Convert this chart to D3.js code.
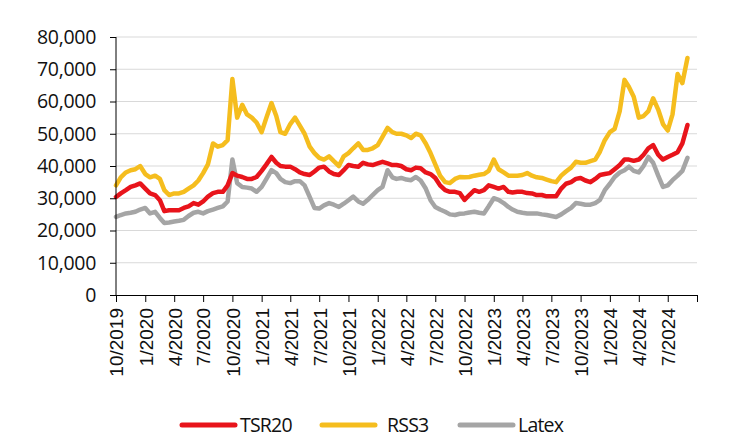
<!DOCTYPE html>
<html><head><meta charset="utf-8">
<script src="https://cdn.jsdelivr.net/npm/d3@7/dist/d3.min.js"></script>
<style>
html,body{margin:0;padding:0;background:#fff;}
svg{display:block;}
</style></head>
<body><svg id="chart" width="732" height="448"></svg>
<script>
// Semi-monthly observations starting 1 Oct 2019 (1st and 16th of each month)
const nPoints = 119;
const dates = [];
for (let i = 0; i < nPoints; i++) {
  const m = Math.floor(i / 2);
  dates.push(new Date(2019, 9 + m, i % 2 === 0 ? 1 : 16));
}

const tsr20 = [30.4,31.5,32.5,33.5,34.0,34.6,33.0,31.5,31.0,29.4,26.0,26.3,26.3,26.3,27.0,27.5,28.5,28.0,29.0,30.5,
31.6,32.0,32.0,34.0,37.8,37.0,36.6,36.0,36.0,36.6,38.5,40.5,42.8,41.0,40.0,39.8,39.8,39.0,38.0,37.5,
37.2,38.3,39.5,39.8,38.3,37.5,37.2,38.7,40.3,40.0,39.8,41.0,40.5,40.3,40.8,41.3,40.8,40.3,40.3,40.0,
39.0,38.7,39.5,39.3,38.0,37.5,36.3,34.0,32.5,32.0,32.0,31.6,29.5,31.0,32.5,32.0,32.5,34.0,33.5,33.0,
33.5,32.0,31.8,32.0,32.0,31.6,31.5,31.0,31.0,30.6,30.6,30.6,33.0,34.5,35.0,36.0,36.3,35.5,35.0,36.0,
37.2,37.5,37.8,39.0,40.3,42.0,42.0,41.6,42.0,43.5,45.5,46.5,43.5,42.0,42.8,43.5,44.3,47.0,52.7];

const rss3 = [34.0,36.5,38.0,38.7,39.0,40.0,37.5,36.5,37.0,36.0,32.5,31.0,31.5,31.5,32.0,33.0,34.0,35.5,37.8,40.5,
47.0,46.0,46.5,48.0,67.0,55.0,59.0,56.0,55.0,53.5,50.5,55.0,59.5,55.5,50.5,50.0,53.0,55.0,52.5,50.0,
46.0,44.0,42.5,42.0,43.0,41.5,40.0,43.0,44.0,45.5,47.0,45.0,45.0,45.5,46.5,49.0,51.8,50.5,50.0,50.0,
49.5,48.7,50.0,49.5,47.0,44.0,40.5,37.0,35.0,34.7,36.0,36.6,36.5,36.6,37.0,37.3,37.5,38.5,42.0,39.0,
38.0,37.0,37.0,37.0,37.2,37.8,37.0,36.5,36.3,35.8,35.3,35.0,37.0,38.3,39.5,41.3,41.0,41.0,41.5,42.0,
44.5,48.0,50.5,51.5,57.0,66.7,64.5,61.5,55.0,55.5,57.0,61.0,57.5,53.0,51.0,56.0,68.5,65.7,73.5];

const latex = [24.2,24.8,25.3,25.5,25.8,26.5,27.0,25.3,25.8,23.9,22.3,22.5,22.8,23.0,23.3,24.5,25.5,25.8,25.3,26.0,
26.5,27.0,27.5,29.0,42.0,34.7,33.5,33.3,33.0,32.0,33.5,36.0,38.7,37.8,36.0,35.0,34.7,35.3,35.3,34.0,
30.4,27.0,26.8,27.8,28.5,28.0,27.3,28.3,29.4,30.5,29.0,28.3,29.5,31.0,32.5,33.5,38.7,36.5,36.0,36.3,
35.8,35.6,36.6,35.5,33.0,29.4,27.3,26.5,25.8,25.0,24.8,25.2,25.3,25.6,25.8,25.5,25.3,27.5,30.0,29.5,
28.5,27.3,26.5,25.8,25.5,25.3,25.3,25.3,25.0,24.8,24.5,24.2,25.0,26.0,27.0,28.5,28.3,28.0,28.0,28.5,
29.5,32.5,34.5,36.6,38.0,38.7,39.8,38.5,38.0,40.0,42.8,41.0,37.0,33.5,34.0,35.6,37.0,38.5,42.5];

const yTicks = [0,10000,20000,30000,40000,50000,60000,70000,80000];
const seriesNames = ["TSR20","RSS3","Latex"];
const seriesColors = ["#e8141b","#f5bd1e","#a5a5a5"];

const svg = d3.select("#chart");
const L = 116, R = 697, T = 37, B = 295;

const x = d3.scaleTime().domain([new Date(2019,9,1), new Date(2024,9,1)]).range([L, R]);
const y = d3.scaleLinear().domain([0, 80000]).range([B, T]);

// gridlines
svg.append("g").selectAll("line").data(yTicks.filter(d => d > 0)).join("line")
  .attr("x1", L).attr("x2", R).attr("y1", d => y(d)).attr("y2", d => y(d))
  .attr("stroke", "#d9d9d9").attr("stroke-width", 1);

// series
const seriesData = [tsr20, rss3, latex];
const line = d3.line().x((d, i) => x(dates[i])).y(d => y(d * 1000)).curve(d3.curveLinear);
[2, 0, 1].forEach(k => {
  svg.append("path").datum(seriesData[k])
    .attr("d", line).attr("fill", "none")
    .attr("stroke", seriesColors[k]).attr("stroke-width", 4.5)
    .attr("stroke-linejoin", "round").attr("stroke-linecap", "round");
});

// y axis
const yAxis = d3.axisLeft(y).tickValues(yTicks).tickSize(6).tickPadding(14)
  .tickFormat(d3.format(","));
const gy = svg.append("g").attr("transform", `translate(${L},0)`).call(yAxis);
gy.select(".domain").attr("stroke", "#000").attr("d", `M0,${T}V${B}`);
gy.selectAll(".tick line").attr("stroke", "#000");
gy.selectAll(".tick text").attr("font-family", "'Open Sans', sans-serif")
  .attr("font-size", "19.5px").attr("fill", "#111").attr("letter-spacing", "-0.3px");

// x axis
const qTicks = d3.timeMonth.every(3).range(new Date(2019,9,1), new Date(2024,9,2));
const xAxis = d3.axisBottom(x).tickValues(qTicks).tickSize(7).tickSizeOuter(0)
  .tickFormat(d => (d.getFullYear() === 2024 && d.getMonth() === 9) ? "" : (d.getMonth() + 1) + "/" + d.getFullYear());
const gx = svg.append("g").attr("transform", `translate(0,${B})`).call(xAxis);
gx.select(".domain").attr("stroke", "#000");
gx.selectAll(".tick line").attr("stroke", "#000");
gx.selectAll(".tick text")
  .attr("font-family", "'Liberation Sans', Arial, sans-serif")
  .attr("font-size", "19px").attr("fill", "#111")
  .attr("text-anchor", "end")
  .attr("transform", "rotate(-90)")
  .attr("x", -13).attr("y", 0).attr("dy", "0.36em");

// legend
const legendItems = [
  {lx: 182, tx: 240},
  {lx: 322, tx: 387},
  {lx: 460, tx: 518}
];
const lg = svg.append("g");
seriesNames.forEach((name, k) => {
  const it = legendItems[k];
  lg.append("line").attr("x1", it.lx).attr("x2", it.lx + 53).attr("y1", 425).attr("y2", 425)
    .attr("stroke", seriesColors[k]).attr("stroke-width", 5).attr("stroke-linecap", "round");
  lg.append("text").attr("x", it.tx).attr("y", 425).attr("dy", "0.36em")
    .attr("font-family", "'Open Sans', sans-serif").attr("font-size", "19.5px")
    .attr("letter-spacing", "-0.8px").attr("fill", "#111").text(name);
});
</script>
</body></html>
